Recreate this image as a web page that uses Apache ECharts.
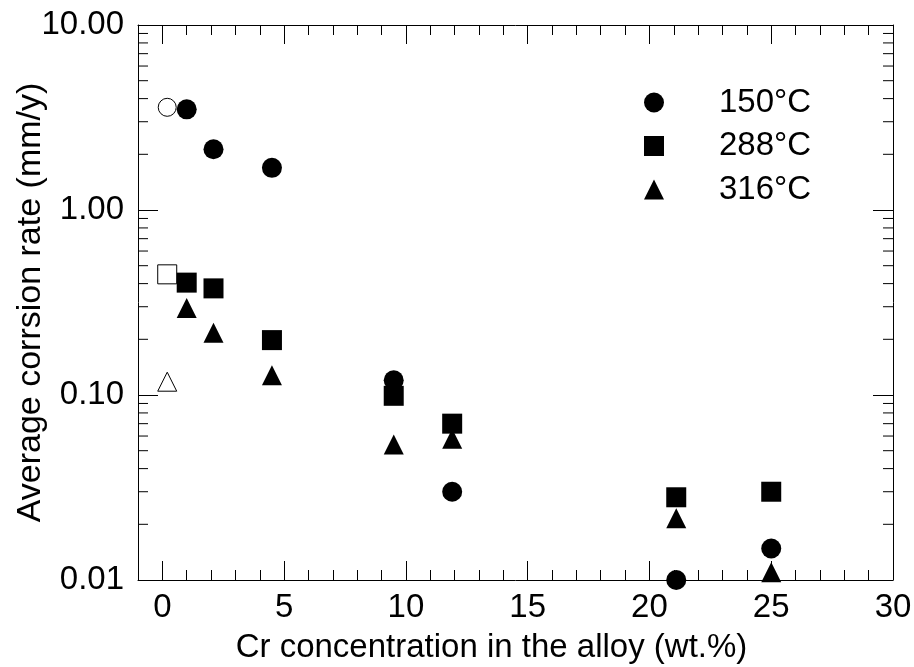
<!DOCTYPE html>
<html>
<head>
<meta charset="utf-8">
<script src="https://cdn.jsdelivr.net/npm/echarts@6/dist/echarts.min.js"></script>
<style>
  html, body { margin: 0; padding: 0; background: #fff; }
  #chart { width: 914px; height: 667px; }
</style>
</head>
<body>
<div id="chart"></div>
<script>
// ---- data ----
const seriesNames = ['150°C', '288°C', '316°C'];
const crValues = [1.0, 2.1, 4.5, 9.5, 11.9, 21.1, 25.0];
const rate150 = [3.5, 2.13, 1.69, 0.12, 0.03, 0.01, 0.0148];
const rate288 = [0.405, 0.377, 0.198, 0.099, 0.07, 0.028, 0.03];
const rate316 = [0.295, 0.217, 0.128, 0.054, 0.058, 0.0216, 0.011];
const crOpen = [0.2];
const open150 = [3.59];
const open288 = [0.449];
const open316 = [0.118];
const xMajorTicks = [0, 5, 10, 15, 20, 25, 30];
const xMinorTicks = [1, 2, 3, 4, 6, 7, 8, 9, 11, 12, 13, 14, 16, 17, 18, 19, 21, 22, 23, 24, 26, 27, 28, 29];
const yMinorTicks = [0.02, 0.03, 0.04, 0.05, 0.06, 0.07, 0.08, 0.09,
                     0.2, 0.3, 0.4, 0.5, 0.6, 0.7, 0.8, 0.9,
                     2, 3, 4, 5, 6, 7, 8, 9];
const xMin = -1, xMax = 30, yMin = 0.01, yMax = 10;

// ---- chart ----
const FONT = '"Liberation Sans", Arial, Helvetica, sans-serif';
const FS = 33;
const chart = echarts.init(document.getElementById('chart'), null, { renderer: 'canvas' });

function pairs(xs, ys) { return xs.map((x, i) => [x, ys[i]]); }

function xAxisDef(pos, ticks, len, showLine, showLabel) {
  return {
    type: 'value', position: pos, min: xMin, max: xMax,
    axisLine: { show: showLine, onZero: false, lineStyle: { color: '#000', width: 1 } },
    axisTick: { show: true, inside: true, length: len, customValues: ticks, lineStyle: { color: '#000', width: 1 } },
    axisLabel: showLabel ? { show: true, customValues: xMajorTicks, color: '#000', fontSize: FS, fontFamily: FONT, margin: 11 } : { show: false },
    splitLine: { show: false }
  };
}

const markerBase = { color: '#000', opacity: 1 };
const openStyle = { color: '#fff', borderColor: '#000', borderWidth: 1, opacity: 1 };

const option = {
  backgroundColor: '#fff',
  animation: false,
  textStyle: { fontFamily: FONT, color: '#000' },
  grid: { left: 138, right: 21, top: 25, bottom: 87, containLabel: false, outerBoundsMode: 'none' },
  legend: {
    data: seriesNames,
    orient: 'vertical',
    left: 639, top: 81,
    itemWidth: 20, itemHeight: 20, itemGap: 10.5,
    itemStyle: { opacity: 1 },
    textStyle: { fontSize: FS, lineHeight: 33, color: '#000', fontFamily: FONT, padding: [0, 0, 0, 50] },
    selectedMode: false
  },
  xAxis: [
    Object.assign(xAxisDef('bottom', xMajorTicks, 19, true, true), {
      name: 'Cr concentration in the alloy (wt.%)', nameLocation: 'middle', nameGap: 51,
      nameMoveOverlap: false,
      nameTextStyle: { fontSize: FS, color: '#000', fontFamily: FONT, padding: [0, 48, 0, 0] }
    }),
    xAxisDef('bottom', xMinorTicks, 10, false, false),
    xAxisDef('top', xMajorTicks, 19, true, false),
    xAxisDef('top', xMinorTicks, 10, false, false)
  ],
  yAxis: [
    {
      type: 'log', logBase: 10, position: 'left', min: yMin, max: yMax,
      name: 'Average corrsion rate (mm/y)', nameLocation: 'middle', nameGap: 90,
      nameMoveOverlap: false,
      nameTextStyle: { fontSize: 34, color: '#000', fontFamily: FONT },
      axisLine: { show: true, onZero: false, lineStyle: { color: '#000', width: 1 } },
      axisTick: { show: true, inside: true, length: 20, lineStyle: { color: '#000', width: 1 } },
      axisLabel: { color: '#000', fontSize: FS, fontFamily: FONT, margin: 14,
                   formatter: v => Number(v).toFixed(2) },
      splitLine: { show: false }
    },
    {
      type: 'log', logBase: 10, position: 'right', min: yMin, max: yMax,
      axisLine: { show: true, onZero: false, lineStyle: { color: '#000', width: 1 } },
      axisTick: { show: true, inside: true, length: 20, lineStyle: { color: '#000', width: 1 } },
      axisLabel: { show: false },
      splitLine: { show: false }
    }
  ],
  series: [
    {
      name: 'yMinorTicks', type: 'custom', xAxisIndex: 0, yAxisIndex: 0, silent: true, clip: false,
      data: yMinorTicks.map(v => [xMin, v]),
      renderItem: function (params, api) {
        const v = api.value(1);
        const L = api.coord([xMin, v]);
        const R = api.coord([xMax, v]);
        const st = { stroke: '#000', lineWidth: 1 };
        return {
          type: 'group',
          children: [
            { type: 'line', shape: { x1: L[0], y1: L[1], x2: L[0] + 10, y2: L[1] }, style: st },
            { type: 'line', shape: { x1: R[0] - 10, y1: R[1], x2: R[0], y2: R[1] }, style: st }
          ]
        };
      }
    },
    { name: seriesNames[0], type: 'scatter', symbol: 'circle', symbolSize: 20, clip: false,
      itemStyle: markerBase, data: pairs(crValues, rate150), z: 5 },
    { name: seriesNames[1], type: 'scatter', symbol: 'rect', symbolSize: 20, clip: false,
      itemStyle: markerBase, data: pairs(crValues, rate288), z: 4 },
    { name: seriesNames[2], type: 'scatter', symbol: 'triangle', symbolSize: 20, clip: false,
      itemStyle: markerBase, data: pairs(crValues, rate316), z: 3 },
    { name: 'open150', type: 'scatter', symbol: 'circle', symbolSize: 18, clip: false,
      itemStyle: openStyle, data: pairs(crOpen, open150) },
    { name: 'open288', type: 'scatter', symbol: 'rect', symbolSize: 19, clip: false,
      itemStyle: openStyle, data: pairs(crOpen, open288) },
    { name: 'open316', type: 'scatter', symbol: 'triangle', symbolSize: 19, clip: false,
      itemStyle: openStyle, data: pairs(crOpen, open316) }
  ]
};
chart.setOption(option);
</script>
</body>
</html>
